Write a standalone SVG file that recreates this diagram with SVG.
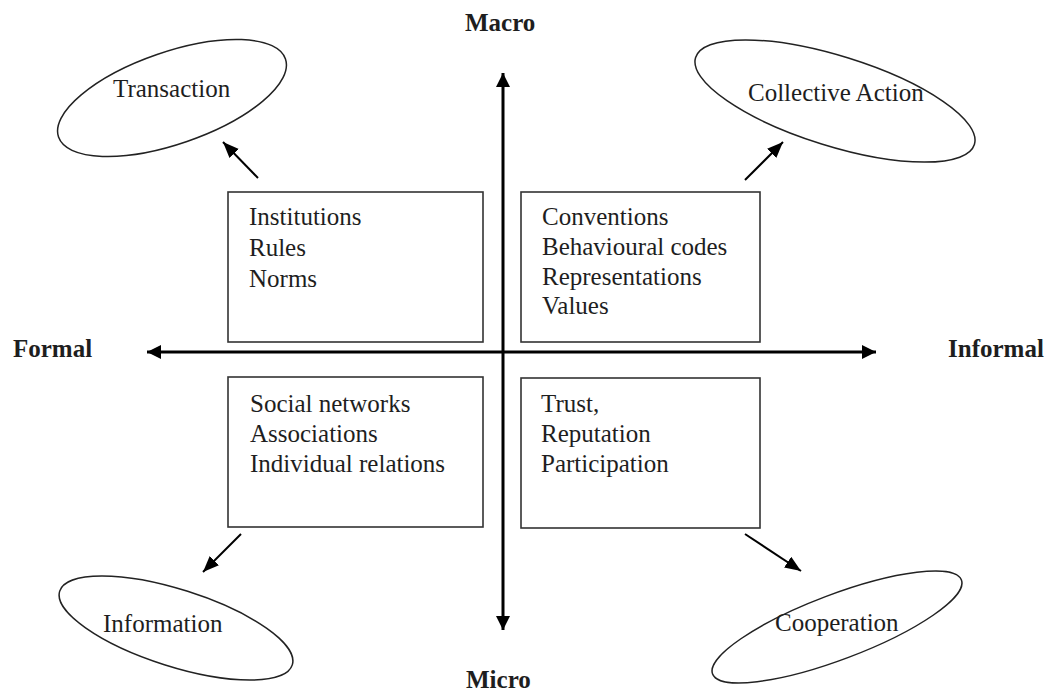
<svg xmlns="http://www.w3.org/2000/svg" width="1050" height="694" viewBox="0 0 1050 694">
<style>
  text { font-family: "Liberation Serif", "Times New Roman", serif; font-size: 25px; fill: #1e1e1e; }
  .bold { font-weight: bold; }
  .box { fill: #fff; stroke: #333; stroke-width: 1.6; }
  .ell { fill: none; stroke: #222; stroke-width: 1.5; }
  .axis { stroke: #000; stroke-width: 3; fill: none; }
  .arr { stroke: #000; stroke-width: 2; fill: none; }
</style>
<defs>
  <marker id="axHead" markerUnits="userSpaceOnUse" markerWidth="16" markerHeight="16" refX="14" refY="7" orient="auto">
    <path d="M0,0 L14,7 L0,14 z" fill="#000"/>
  </marker>
  <marker id="smHead" markerUnits="userSpaceOnUse" markerWidth="18" markerHeight="14" refX="16" refY="6.5" orient="auto">
    <path d="M0,0 L16,6.5 L0,13 z" fill="#000"/>
  </marker>
</defs>
<rect width="1050" height="694" fill="#fff"/>

<g id="connectors">
  <line class="axis" x1="503" y1="350" x2="503" y2="73" marker-end="url(#axHead)"/>
  <line class="axis" x1="503" y1="350" x2="503" y2="630" marker-end="url(#axHead)"/>
  <line class="axis" x1="503" y1="352" x2="147" y2="352" marker-end="url(#axHead)"/>
  <line class="axis" x1="503" y1="352" x2="876" y2="352" marker-end="url(#axHead)"/>
  <line class="arr" x1="258" y1="178" x2="223" y2="142" marker-end="url(#smHead)"/>
  <line class="arr" x1="745" y1="180" x2="783" y2="142" marker-end="url(#smHead)"/>
  <line class="arr" x1="241" y1="534" x2="203" y2="572" marker-end="url(#smHead)"/>
  <line class="arr" x1="745" y1="534" x2="801" y2="571" marker-end="url(#smHead)"/>
</g>

<g id="label-macro"><text class="bold" x="465" y="31">Macro</text></g>
<g id="label-micro"><text class="bold" x="466" y="688">Micro</text></g>
<g id="label-formal"><text class="bold" x="13" y="357">Formal</text></g>
<g id="label-informal"><text class="bold" x="948" y="357">Informal</text></g>

<g id="box-top-left">
  <rect class="box" x="228" y="192" width="255" height="150"/>
  <text x="249" y="225">Institutions</text>
  <text x="249" y="256">Rules</text>
  <text x="249" y="287">Norms</text>
</g>
<g id="box-top-right">
  <rect class="box" x="521" y="192" width="239" height="150"/>
  <text x="542" y="225">Conventions</text>
  <text x="542" y="255">Behavioural codes</text>
  <text x="542" y="285">Representations</text>
  <text x="542" y="314">Values</text>
</g>
<g id="box-bottom-left">
  <rect class="box" x="228" y="377" width="255" height="150"/>
  <text x="250" y="412">Social networks</text>
  <text x="250" y="442">Associations</text>
  <text x="250" y="472">Individual relations</text>
</g>
<g id="box-bottom-right">
  <rect class="box" x="521" y="378" width="239" height="150"/>
  <text x="541" y="412">Trust,</text>
  <text x="541" y="442">Reputation</text>
  <text x="541" y="472">Participation</text>
</g>

<g id="ellipse-transaction">
  <ellipse class="ell" cx="172" cy="98" rx="120" ry="46" transform="rotate(-19 172 98)"/>
  <text x="113" y="97">Transaction</text>
</g>
<g id="ellipse-collective-action">
  <ellipse class="ell" cx="835" cy="101" rx="146" ry="45" transform="rotate(17.3 835 101)"/>
  <text x="748" y="101">Collective Action</text>
</g>
<g id="ellipse-information">
  <ellipse class="ell" cx="176" cy="628" rx="122" ry="38.5" transform="rotate(17.6 176 628)"/>
  <text x="103" y="632">Information</text>
</g>
<g id="ellipse-cooperation">
  <ellipse class="ell" cx="837" cy="627" rx="133" ry="32.5" transform="rotate(-20.7 837 627)"/>
  <text x="775" y="631">Cooperation</text>
</g>
</svg>
